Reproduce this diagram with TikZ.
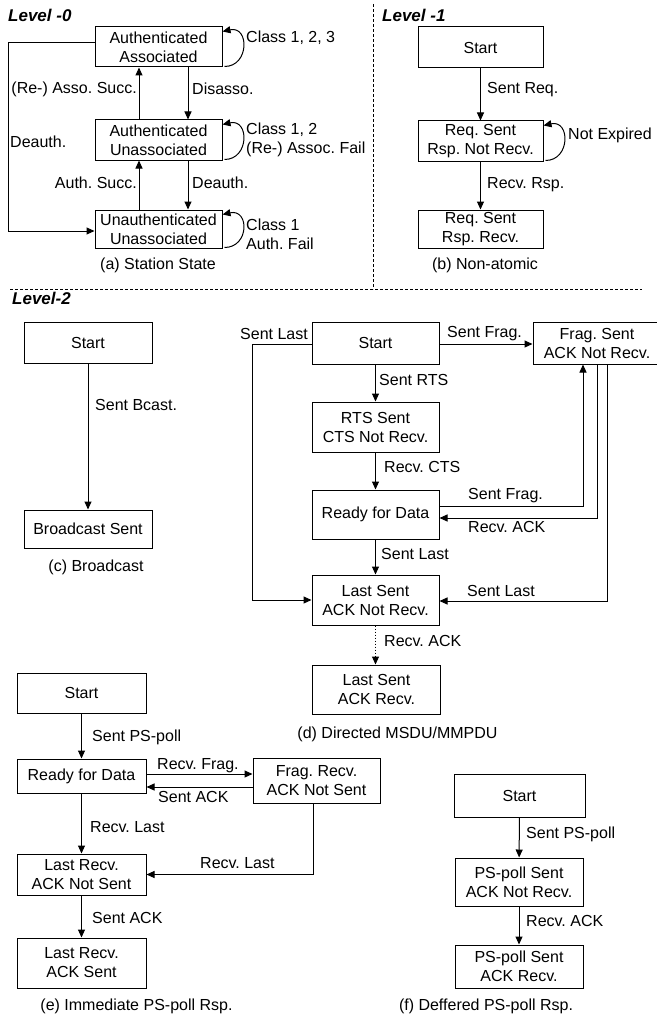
\documentclass[tikz,border=0pt]{standalone}
\usepackage{fontspec}
\setmainfont{Liberation Sans}
\usetikzlibrary{arrows.meta,calc}
\frenchspacing
\begin{document}
\frenchspacing
\begin{tikzpicture}[x=1pt,y=-1pt,font=\fontsize{16}{19}\selectfont,
  stbox/.style={draw,line width=1pt,inner sep=0pt,align=center},
  lbl/.style={inner sep=0pt},
  lvl/.style={inner sep=0pt,font=\fontsize{17}{20}\selectfont\bfseries\itshape,anchor=west},
  arr/.style={line width=1pt,-{Triangle[length=8pt,width=7pt]}},
  sep/.style={line width=0.8pt,dash pattern=on 3pt off 2pt}]
\fill[white] (0,0) rectangle (656,1022);
\useasboundingbox (0,0) rectangle (656,1022);
% separators
\draw[sep] (373,4) -- (373,289);
\draw[sep] (10,289) -- (642,289);
% ---------- Level -0
\node[lvl] (L0) at (8,15) {Level -0};
\node[stbox,minimum width=127pt,minimum height=40pt] (a1) at (158.5,47) {Authenticated\\Associated};
\node[stbox,minimum width=127pt,minimum height=40pt] (a2) at (158.5,140) {Authenticated\\Unassociated};
\node[stbox,minimum width=127pt,minimum height=38pt] (a3) at (158.5,229) {Unauthenticated\\Unassociated};
\draw[arr] ([xshift=-19.5pt]a2.north) -- ([xshift=-19.5pt]a1.south);
\draw[arr] ([xshift=29.5pt]a1.south) -- ([xshift=29.5pt]a2.north);
\draw[arr] ([xshift=-19.5pt]a3.north) -- ([xshift=-19.5pt]a2.south);
\draw[arr] ([xshift=29.5pt]a2.south) -- ([xshift=29.5pt]a3.north);
\draw[arr] ([yshift=4pt]a1.west) -- ++(-86,0) |- ([yshift=-2pt]a3.west);
\node[lbl,anchor=east] (la1) at (137,89) {(Re-) Asso. Succ.};
\node[lbl,anchor=west] (la2) at (192,89) {Disasso.};
\node[lbl,anchor=east] (la3) at (137,183) {Auth. Succ.};
\node[lbl,anchor=west] (la4) at (192,183) {Deauth.};
\node[lbl,anchor=west] (la5) at (10,142) {Deauth.};
\draw[arr] ([shift={(2pt,1pt)}]a1.south east) .. controls +(25,0) and +(27,-6) .. ([yshift=-5pt]a1.north east);
\draw[arr] ([shift={(2pt,1pt)}]a2.south east) .. controls +(25,0) and +(27,-6) .. ([yshift=-5pt]a2.north east);
\draw[arr] ([shift={(2pt,1pt)}]a3.south east) .. controls +(25,0) and +(27,-6) .. ([yshift=-5pt]a3.north east);
\node[lbl,anchor=west] (la6) at (246,38) {Class 1, 2, 3};
\node[lbl,anchor=west,align=left] (la7) at (246,139.5) {Class 1, 2\\(Re-) Assoc. Fail};
\node[lbl,anchor=west,align=left] (la8) at (246,234.5) {Class 1\\Auth. Fail};
\node[lbl] (capa) at (158,265) {(a) Station State};
% ---------- Level -1
\node[lvl] (L1) at (382,15) {Level -1};
\node[stbox,minimum width=125pt,minimum height=41pt] (b1) at (480.5,47.5) {Start};
\node[stbox,minimum width=125pt,minimum height=40pt] (b2) at (480.5,141) {Req. Sent\\Rsp. Not Recv.};
\node[stbox,minimum width=125pt,minimum height=38pt] (b3) at (480.5,229) {Req. Sent\\Rsp. Recv.};
\draw[arr] (b1) -- (b2);
\draw[arr] (b2) -- (b3);
\draw[arr] ([shift={(2pt,1pt)}]b2.south east) .. controls +(25,0) and +(27,-6) .. ([yshift=-5pt]b2.north east);
\node[lbl,anchor=west] (lb1) at (487,90) {Sent Req.};
\node[lbl,anchor=west] (lb2) at (487,185) {Recv. Rsp.};
\node[lbl,anchor=west] (lb3) at (568,135) {Not Expired};
\node[lbl] (capb) at (485,265) {(b) Non-atomic};
% ---------- Level-2
\node[lvl] (L2) at (12,298) {Level-2};
% (c)
\node[stbox,minimum width=128pt,minimum height=41pt] (c1) at (88,342.5) {Start};
\node[stbox,minimum width=128pt,minimum height=38pt] (c2) at (88,529) {Broadcast Sent};
\draw[arr] (c1) -- (c2);
\node[lbl,anchor=west] (lc1) at (95,405) {Sent Bcast.};
\node[lbl] (capc) at (96,567) {(c) Broadcast};
% (d)
\node[stbox,minimum width=127pt,minimum height=42pt] (d1) at (375.5,343) {Start};
\node[stbox,minimum width=128pt,minimum height=42pt] (d2) at (597,343) {Frag. Sent\\ACK Not Recv.};
\node[stbox,minimum width=127pt,minimum height=50pt] (d3) at (375.5,427) {RTS Sent\\CTS Not Recv.};
\node[stbox,minimum width=127pt,minimum height=49pt] (d4) at (375.5,514.5) {Ready for Data};
\node[stbox,minimum width=127pt,minimum height=50pt] (d5) at (375.5,600) {Last Sent\\ACK Not Recv.};
\node[stbox,minimum width=128pt,minimum height=49pt] (d6) at (376.5,689.5) {Last Sent\\ACK Recv.};
\draw[arr] ([yshift=-1pt]d1.east) -- ([yshift=-1pt]d2.west);
\draw[arr] (d1) -- (d3);
\draw[arr] (d3) -- (d4);
\draw[arr] (d4) -- (d5);
\draw[arr] ([yshift=8.5pt]d4.east) -| ([xshift=-14pt]d2.south);
\draw[arr] (d2.south) |- ([yshift=-3.5pt]d4.east);
\draw[arr] ([xshift=10pt]d2.south) |- ([yshift=-1pt]d5.east);
\draw[arr] ([yshift=-1pt]d1.west) -- ++(-59,0) |- (d5.west);
\draw[arr,dotted] (d5.south) -- (d5.south |- d6.north);
\node[lbl,anchor=west] (ld1) at (447,334) {Sent Frag.};
\node[lbl,anchor=east] (ld2) at (308,334) {Sent Last};
\node[lbl,anchor=west] (ld3) at (379,380) {Sent RTS};
\node[lbl,anchor=west] (ld4) at (384,467) {Recv. CTS};
\node[lbl,anchor=west] (ld5) at (468,496) {Sent Frag.};
\node[lbl,anchor=west] (ld6) at (468,527) {Recv. ACK};
\node[lbl,anchor=west] (ld7) at (381,554) {Sent Last};
\node[lbl,anchor=west] (ld8) at (467,591) {Sent Last};
\node[lbl,anchor=west] (ld9) at (384,641) {Recv. ACK};
\node[lbl] (capd) at (397.5,734) {(d) Directed MSDU/MMPDU};
% (e)
\node[stbox,minimum width=129pt,minimum height=40pt] (e1) at (81.5,693) {Start};
\node[stbox,minimum width=129pt,minimum height=34pt] (e2) at (81.5,776) {Ready for Data};
\node[stbox,minimum width=127pt,minimum height=45pt] (e3) at (316.5,780.5) {Frag. Recv.\\ACK Not Sent};
\node[stbox,minimum width=129pt,minimum height=41pt] (e4) at (81.5,874.5) {Last Recv.\\ACK Not Sent};
\node[stbox,minimum width=129pt,minimum height=50pt] (e5) at (81.5,963) {Last Recv.\\ACK Sent};
\draw[arr] (e1) -- (e2);
\coordinate (e2r) at ([yshift=2pt]e2.east);
\coordinate (e2s) at ([yshift=-11pt]e2.east);
\draw[arr] (e2r) -- (e2r -| e3.west);
\draw[arr] (e2s -| e3.west) -- (e2s);
\draw[arr] (e2) -- (e4);
\draw[arr] ([xshift=-3.5pt]e3.south) |- (e4.east);
\draw[arr] (e4) -- (e5);
\node[lbl,anchor=west] (le1) at (92,737) {Sent PS-poll};
\node[lbl,anchor=west] (le2) at (157,766) {Recv. Frag.};
\node[lbl,anchor=west] (le3) at (158,797) {Sent ACK};
\node[lbl,anchor=west] (le4) at (90,827) {Recv. Last};
\node[lbl,anchor=west] (le5) at (200,863) {Recv. Last};
\node[lbl,anchor=west] (le6) at (92,918) {Sent ACK};
\node[lbl] (cape) at (136.5,1006) {(e) Immediate PS-poll Rsp.};
% (f)
\node[stbox,minimum width=131pt,minimum height=43pt] (f1) at (519.5,795.5) {Start};
\node[stbox,minimum width=128pt,minimum height=48pt] (f2) at (519,882) {PS-poll Sent\\ACK Not Recv.};
\node[stbox,minimum width=128pt,minimum height=43pt] (f3) at (519,966.5) {PS-poll Sent\\ACK Recv.};
\draw[arr] (f1) -- (f2);
\draw[arr] (f2) -- (f3);
\node[lbl,anchor=west] (lf1) at (526,834) {Sent PS-poll};
\node[lbl,anchor=west] (lf2) at (526,921) {Recv. ACK};
\node[lbl] (capf) at (486,1006) {(f) Deffered PS-poll Rsp.};
\end{tikzpicture}
\end{document}
